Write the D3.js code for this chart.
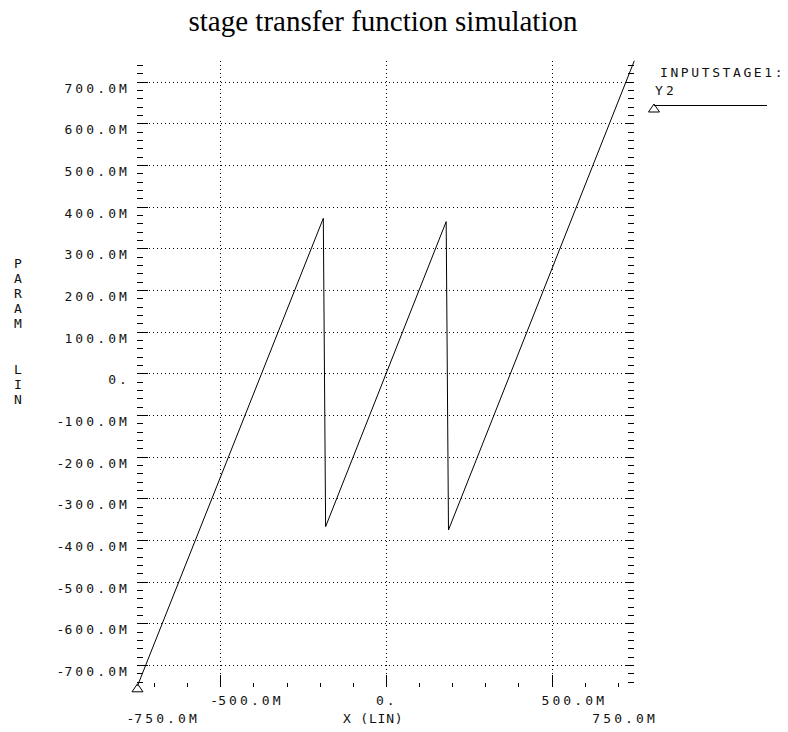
<!DOCTYPE html>
<html lang="en">
<head>
    <meta charset="UTF-8">
    <title>stage transfer function simulation</title>
    <script src="https://d3js.org/d3.v7.min.js"></script>
    <style>
        body { margin: 0; background: #fff; }
        text { font-family: "DejaVu Sans Mono", monospace; font-size: 13px; fill: #111; }
        .title { font-family: "Liberation Serif", "Times New Roman", serif; font-size: 29px; fill: #000; }
        .grid { stroke: #000; stroke-width: 1; stroke-dasharray: 1,3; shape-rendering: crispEdges; }
        .tick line { stroke: #000; shape-rendering: crispEdges; }
    </style>
</head>
<body>
<script>
    // curve (values in milli units)
    var xVals = [-750, -189, -182, 182, 189, 750];
    var yVals = [-750, 372, -368, 364, -376, 750];

    // tick values
    var yMajor = d3.range(-700, 701, 100);
    var yMinor = d3.range(-740, 741, 20).filter(v => v % 100 !== 0);
    var xMajor = [-500, 0, 500];
    var xMinor = d3.range(-700, 701, 100).filter(v => v % 500 !== 0);
    var xLabelsTop = [-500, 0, 500];
    var xLabelsBottom = [-750, 750];

    var yTitle = "PARAM  LIN";
    var legendName = "INPUTSTAGE1:";
    var legendSeries = "Y2";

    var width = 788, height = 732;

    var svg = d3.select("body").append("svg")
        .attr("width", width)
        .attr("height", height);

    svg.append("rect").attr("width", width).attr("height", height).attr("fill", "#fff");

    var x = d3.scaleLinear().domain([-750, 750]).range([137.5, 634.3]);
    var y = d3.scaleLinear().domain([-750, 750]).range([685.8, 60.8]);

    var fmt = v => v === 0 ? "0." : Math.abs(v).toFixed(1) + "M";

    // writes a label with a narrow minus sign like the plotter font
    function label(sel) {
        sel.style("letter-spacing", "3.1px");
        sel.filter(d => d < 0).append("tspan")
            .style("letter-spacing", "0px")
            .text("-");
        sel.append("tspan").text(fmt);
    }

    // title
    svg.append("text")
        .attr("class", "title")
        .attr("x", 383)
        .attr("y", 31)
        .attr("text-anchor", "middle")
        .text("stage transfer function simulation");

    // dotted grid
    svg.selectAll(".hgrid")
        .data(yMajor)
        .enter().append("line")
        .attr("class", "grid")
        .attr("x1", x(-750) + 11).attr("x2", x(750) - 10)
        .attr("y1", d => Math.round(y(d)) + 0.5).attr("y2", d => Math.round(y(d)) + 0.5);

    svg.selectAll(".vgrid")
        .data(xMajor)
        .enter().append("line")
        .attr("class", "grid")
        .attr("x1", d => Math.round(x(d)) + 0.5).attr("x2", d => Math.round(x(d)) + 0.5)
        .attr("y1", y(750)).attr("y2", y(-750) - 12);

    // left axis ticks
    function noDomain(g) { g.select(".domain").remove(); g.selectAll("text").remove(); }

    svg.append("g")
        .attr("transform", "translate(" + (x(-750) - 1) + ",0)")
        .call(d3.axisRight(y).tickValues(yMinor).tickSize(6).tickFormat(""))
        .call(noDomain);
    svg.append("g")
        .attr("transform", "translate(" + (x(-750) - 1) + ",0)")
        .call(d3.axisRight(y).tickValues(yMajor).tickSize(11).tickFormat(""))
        .call(noDomain);

    // right axis ticks
    svg.append("g")
        .attr("transform", "translate(" + x(750) + ",0)")
        .call(d3.axisLeft(y).tickValues(yMinor).tickSize(6).tickFormat(""))
        .call(noDomain);
    svg.append("g")
        .attr("transform", "translate(" + x(750) + ",0)")
        .call(d3.axisLeft(y).tickValues(yMajor).tickSize(9).tickFormat(""))
        .call(noDomain);

    // bottom axis ticks
    svg.append("g")
        .attr("transform", "translate(0," + (y(-750) + 1) + ")")
        .call(d3.axisTop(x).tickValues(xMinor).tickSize(4).tickFormat(""))
        .call(noDomain);
    svg.append("g")
        .attr("transform", "translate(0," + (y(-750) + 1) + ")")
        .call(d3.axisTop(x).tickValues(xMajor).tickSize(12).tickFormat(""))
        .call(noDomain);

    // y tick labels
    svg.selectAll(".ylab")
        .data(yMajor)
        .enter().append("text")
        .attr("x", 130)
        .attr("y", d => y(d) + 11)
        .attr("text-anchor", "end")
        .call(label);

    // x tick labels
    svg.selectAll(".xlab1")
        .data(xLabelsTop)
        .enter().append("text")
        .attr("x", d => x(d) - 10)
        .attr("y", 705)
        .call(label);

    svg.selectAll(".xlab2")
        .data(xLabelsBottom)
        .enter().append("text")
        .attr("x", d => d < 0 ? x(d) - 11 : x(d) - 42)
        .attr("y", 723)
        .call(label);

    svg.append("text")
        .attr("x", 343)
        .attr("y", 723)
        .style("letter-spacing", "0.8px")
        .text("X (LIN)");

    // vertical y title
    svg.selectAll(".ytitle")
        .data(yTitle.split(""))
        .enter().append("text")
        .attr("x", 18)
        .attr("y", (d, i) => 268 + i * 15.1)
        .attr("text-anchor", "middle")
        .text(d => d);

    // the curve
    var pts = xVals.map((v, i) => [v, yVals[i]]);
    var line = d3.line().x(d => x(d[0])).y(d => y(d[1]));

    svg.append("path")
        .datum(pts)
        .attr("fill", "none")
        .attr("stroke", "#000")
        .attr("stroke-width", 1)
        .attr("d", line);

    var tri = "M0,0L-5.5,8L5.5,8Z";
    svg.append("path")
        .attr("d", tri)
        .attr("fill", "none")
        .attr("stroke", "#000")
        .attr("transform", "translate(" + x(xVals[0]) + "," + (y(yVals[0]) - 2) + ")");

    // legend
    svg.append("text")
        .attr("x", 660)
        .attr("y", 77)
        .style("letter-spacing", "2.6px")
        .text(legendName);
    svg.append("text")
        .attr("x", 655)
        .attr("y", 95)
        .style("letter-spacing", "3.1px")
        .text(legendSeries);
    svg.append("line")
        .attr("x1", 654).attr("x2", 767)
        .attr("y1", 105.5).attr("y2", 105.5)
        .attr("stroke", "#000");
    svg.append("path")
        .attr("d", tri)
        .attr("fill", "none")
        .attr("stroke", "#000")
        .attr("transform", "translate(654,104)");
</script>
</body>
</html>
